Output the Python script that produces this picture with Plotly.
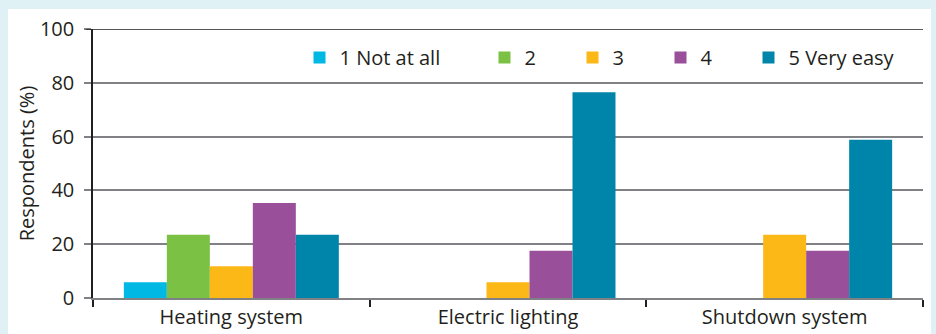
import plotly.graph_objects as go

categories = ["Heating system", "Electric lighting", "Shutdown system"]
series_names = ["1 Not at all", "2", "3", "4", "5 Very easy"]
values_1 = [5.9, 0, 0]
values_2 = [23.5, 0, 0]
values_3 = [11.8, 5.9, 23.5]
values_4 = [35.3, 17.6, 17.6]
values_5 = [23.5, 76.5, 58.8]
y_ticks = [0, 20, 40, 60, 80, 100]

series_values = [values_1, values_2, values_3, values_4, values_5]
colors = ["#00b8e4", "#7bc143", "#fbb817", "#9a4f9b", "#0085aa"]
legend_widths = [140, 43, 43, 43, None]

TXT = "#231f20"
GRID = "#7f8184"
FONT = "Open Sans"

fig = go.Figure()
for name, vals, col, lw in zip(series_names, series_values, colors, legend_widths):
    fig.add_trace(go.Bar(
        x=categories, y=vals, name=name,
        marker=dict(color=col, line=dict(width=0)),
        legendwidth=lw,
    ))

W, H = 936, 334
L, R, T, B = 93, 13, 29, 36
pw = W - L - R
ph = H - T - B

fig.update_layout(
    width=W, height=H,
    margin=dict(l=L, r=R, t=T, b=B, pad=0, autoexpand=False),
    paper_bgcolor="#e0f1f6",
    plot_bgcolor="white",
    barmode="group",
    bargap=0.223,
    bargroupgap=0,
    font=dict(family=FONT, size=20, color=TXT),
    showlegend=True,
    legend=dict(
        orientation="h",
        x=(299.5 - L) / pw, xanchor="left",
        y=(298 - 57.5) / ph, yanchor="middle",
        bgcolor="rgba(0,0,0,0)",
        borderwidth=0,
        font=dict(family=FONT, size=20, color=TXT),
        traceorder="normal",
        itemclick=False,
    ),
    xaxis=dict(
        type="category",
        automargin=False,
        showline=True, linecolor=GRID, linewidth=1.5,
        ticks="outside", tickson="boundaries", ticklen=7, tickwidth=1.5, tickcolor=TXT,
        showgrid=False, zeroline=False,
        tickfont=dict(family=FONT, size=20, color=TXT),
    ),
    yaxis=dict(
        range=[0, 100],
        automargin=False,
        tickvals=y_ticks,
        showline=True, linecolor=TXT, linewidth=1.5,
        ticks="outside", ticklen=7, tickwidth=1.5, tickcolor=GRID,
        showgrid=True, gridcolor=GRID, gridwidth=1.5,
        zeroline=False,
        tickfont=dict(family=FONT, size=20, color=TXT),
        ticklabelstandoff=6,
        title=dict(text="Respondents (%)", font=dict(family=FONT, size=20, color=TXT), standoff=0),
    ),
    shapes=[
        dict(type="rect", xref="paper", yref="paper",
             x0=(8 - L) / pw, x1=(931 - L) / pw,
             y0=-(H - 298) / ph - 0.05, y1=(298 - 9) / ph,
             fillcolor="white", line=dict(width=0), layer="below"),
        dict(type="line", xref="paper", yref="y",
             x0=-7 / pw, x1=1, y0=100, y1=100,
             line=dict(color=TXT, width=1.5), layer="above"),
    ],
)

fig.write_html("out.html")
